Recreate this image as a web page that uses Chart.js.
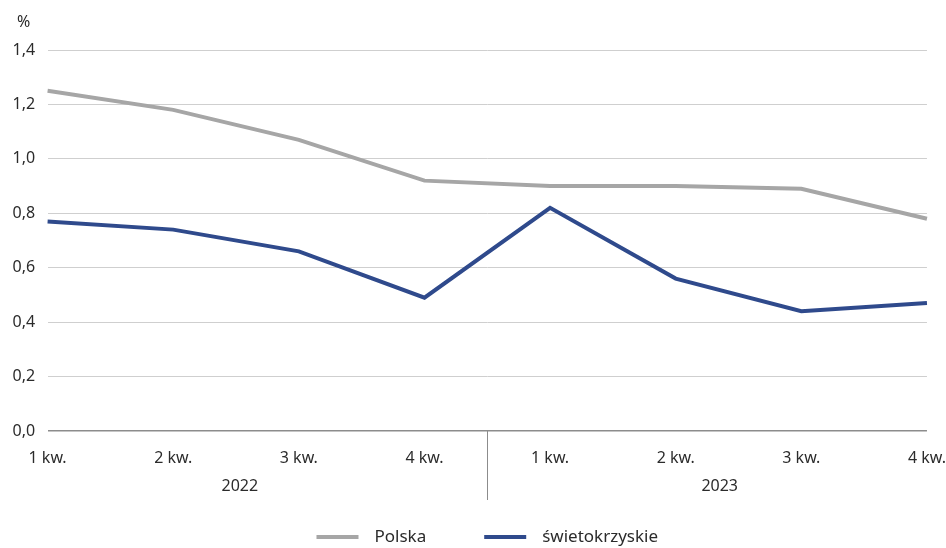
<!DOCTYPE html>
<html lang="pl">
<head>
<meta charset="utf-8">
<script src="https://cdn.jsdelivr.net/npm/chart.js@4"></script>
<style>
  html, body { margin: 0; padding: 0; background: #fff; }
  #wrap { width: 946px; height: 548px; position: relative; }
</style>
</head>
<body>
<div id="wrap"><canvas id="chart"></canvas></div>
<script>
  // ---------- Dane ----------
  const quarters = ['1 kw.', '2 kw.', '3 kw.', '4 kw.', '1 kw.', '2 kw.', '3 kw.', '4 kw.'];
  const years = ['2022', '2023'];
  const polska = [1.25, 1.18, 1.07, 0.92, 0.90, 0.90, 0.89, 0.78];
  const swietokrzyskie = [0.77, 0.74, 0.66, 0.49, 0.82, 0.56, 0.44, 0.47];
  const seriesNames = ['Polska', 'świetokrzyskie'];

  const FONT = '"Noto Sans", "Open Sans", sans-serif';
  const TEXT = '#2b2b2b';
  const GRAY = '#a6a6a6';
  const BLUE = '#2f4a8c';

  // Etykiety lat + separator pod osią X, znak %, legenda pod wykresem
  const groupAxis = {
    id: 'groupAxis',
    afterDraw(chart){
      const { ctx, chartArea, scales: { x } } = chart;
      ctx.save();
      // separator między latami
      const sx = Math.round(x.getPixelForValue(3.5)) + 0.5;
      ctx.strokeStyle = '#8c8c8c';
      ctx.lineWidth = 1;
      ctx.beginPath();
      ctx.moveTo(sx, chartArea.bottom);
      ctx.lineTo(sx, chartArea.bottom + 69);
      ctx.stroke();
      // lata
      ctx.fillStyle = TEXT;
      ctx.font = '16px ' + FONT;
      ctx.textAlign = 'center';
      ctx.textBaseline = 'middle';
      ctx.fillText(years[0], x.getPixelForValue(1.53), chartArea.bottom + 55);
      ctx.fillText(years[1], x.getPixelForValue(5.35), chartArea.bottom + 55);
      // jednostka
      ctx.fillText('%', chartArea.left - 24, chartArea.top - 28);

      // legenda
      ctx.font = '17px ' + FONT;
      ctx.textAlign = 'left';
      const sample = 42, gapText = 16, gapItem = 58;
      const items = chart.data.datasets.map(ds => ({ label: ds.label, color: ds.borderColor, w: ctx.measureText(ds.label).width }));
      const total = items.reduce((s, it) => s + sample + gapText + it.w, 0) + gapItem * (items.length - 1);
      let lx = (chartArea.left + chartArea.right) / 2 - total / 2;
      const ly = chartArea.bottom + 106;
      items.forEach(it => {
        ctx.strokeStyle = it.color;
        ctx.lineWidth = 4;
        ctx.beginPath();
        ctx.moveTo(lx, ly);
        ctx.lineTo(lx + sample, ly);
        ctx.stroke();
        ctx.fillText(it.label, lx + sample + gapText, ly);
        lx += sample + gapText + it.w + gapItem;
      });
      ctx.restore();
    }
  };

  new Chart(document.getElementById('chart'), {
    type: 'line',
    data: {
      labels: quarters,
      datasets: [
        { label: seriesNames[0], data: polska, borderColor: GRAY, backgroundColor: GRAY,
          borderWidth: 4, pointRadius: 0, tension: 0 },
        { label: seriesNames[1], data: swietokrzyskie, borderColor: BLUE, backgroundColor: BLUE,
          borderWidth: 4, pointRadius: 0, tension: 0 }
      ]
    },
    options: {
      responsive: true,
      maintainAspectRatio: false,
      animation: false,
      layout: { padding: { top: 50, right: 5, bottom: 0, left: 0 } },
      plugins: {
        tooltip: { enabled: false },
        legend: { display: false }
      },
      scales: {
        x: {
          offset: false,
          grid: { display: false, drawTicks: true, tickLength: 18 },
          border: { display: false },
          ticks: { color: TEXT, font: { family: FONT, size: 16 }, padding: 0, maxRotation: 0, autoSkip: false },
          afterFit(scale){ scale.height = 117; }
        },
        y: {
          min: 0,
          max: 1.4,
          grid: {
            drawTicks: false,
            color: (c) => c.tick && c.tick.value === 0 ? '#8c8c8c' : '#cfcfcf',
            lineWidth: (c) => c.tick && c.tick.value === 0 ? 1.5 : 1
          },
          border: { display: false },
          ticks: {
            stepSize: 0.2,
            color: TEXT,
            font: { family: FONT, size: 16 },
            padding: 12.5,
            callback: (v) => Number(v).toFixed(1).replace('.', ',')
          }
        }
      }
    },
    plugins: [groupAxis]
  });
</script>
</body>
</html>
